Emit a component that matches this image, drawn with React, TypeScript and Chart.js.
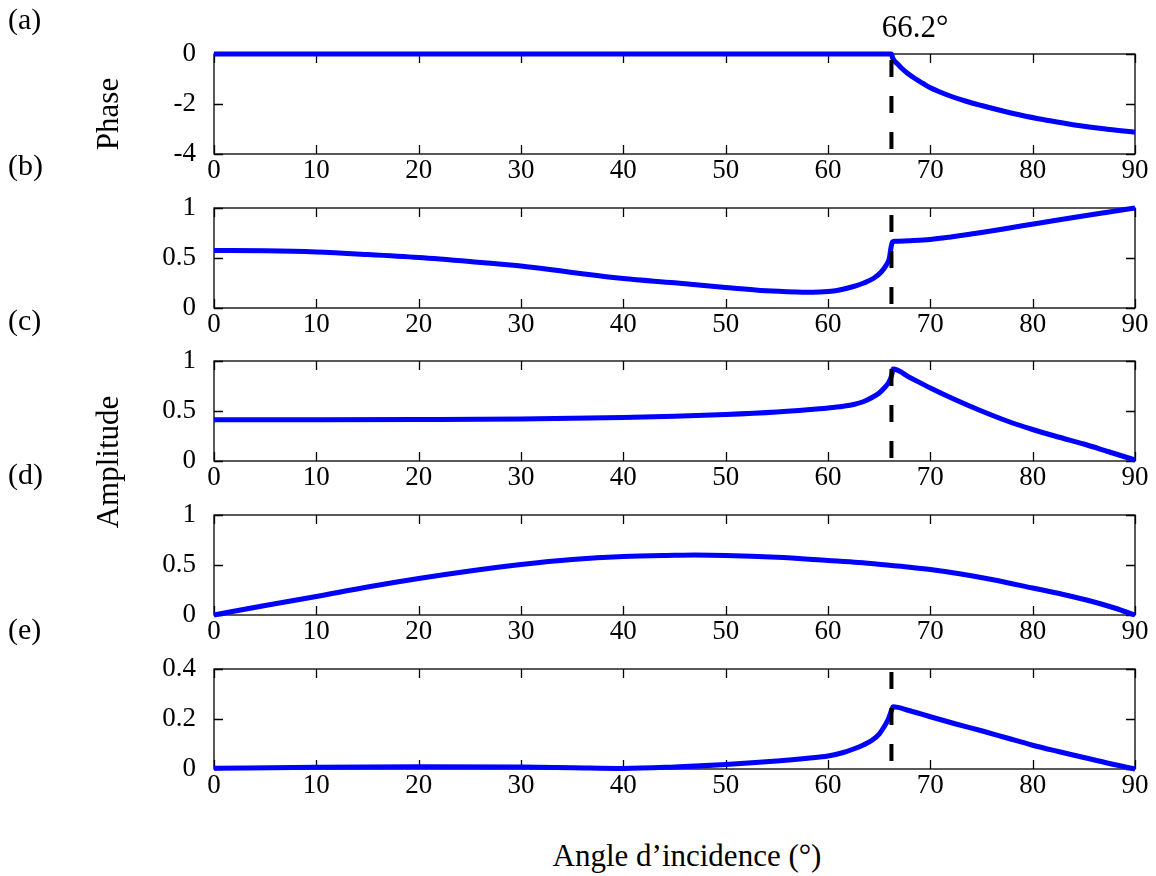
import React, { useEffect, useRef } from "react";
import { Chart, registerables } from "chart.js";

Chart.register(...registerables);

// ---------------- data ----------------
const xTickValues = [0, 10, 20, 30, 40, 50, 60, 70, 80, 90];
const xTickLabels = ["0", "10", "20", "30", "40", "50", "60", "70", "80", "90"];
const criticalAngle = 66.2;
const criticalLabel = "66.2°";
const xTitle = "Angle d’incidence (°)";
const panelLetters = ["(a)", "(b)", "(c)", "(d)", "(e)"];

// (a) phase
const angleA = [0, 66.2, 66.3, 66.5, 66.8, 67.2, 67.8, 68.5, 69.3, 70, 71, 72, 73.5, 75, 77, 79, 81, 83, 85, 87.5, 90];
const phaseA = [0, 0, -0.14, -0.28, -0.4, -0.57, -0.78, -0.98, -1.18, -1.35, -1.53, -1.69, -1.89, -2.06, -2.27, -2.46, -2.62, -2.76, -2.89, -3.02, -3.13];
const yTicksA = [-4, -2, 0];
const yLabelsA = ["-4", "-2", "0"];

// (b)
const angleB = [0, 5, 10, 15, 20, 25, 30, 35, 40, 45, 50, 54, 57, 58.5, 60, 61, 62.5, 63.5, 64.5, 65.2, 65.7, 66.0, 66.15, 66.3, 66.5, 68, 70, 72, 75, 78, 81, 84, 87, 90];
const ampB = [0.575, 0.572, 0.56, 0.535, 0.505, 0.465, 0.42, 0.355, 0.295, 0.252, 0.205, 0.172, 0.16, 0.157, 0.165, 0.178, 0.215, 0.25, 0.3, 0.36, 0.43, 0.5, 0.6, 0.66, 0.667, 0.673, 0.685, 0.71, 0.755, 0.805, 0.855, 0.905, 0.953, 1.0];

// (c)
const angleC = [0, 10, 20, 30, 40, 45, 50, 55, 58, 60, 61.5, 62.5, 63.5, 64.3, 65, 65.5, 65.9, 66.1, 66.25, 66.35, 68, 70, 72.5, 75, 77.5, 80, 82.5, 85, 87.5, 90];
const ampC = [0.413, 0.413, 0.415, 0.42, 0.435, 0.448, 0.465, 0.49, 0.512, 0.53, 0.548, 0.565, 0.595, 0.635, 0.68, 0.73, 0.78, 0.82, 0.87, 0.92, 0.835, 0.73, 0.61, 0.5, 0.4, 0.315, 0.24, 0.17, 0.09, 0.01];

// (d)
const angleD = [0, 5, 10, 15, 20, 25, 30, 35, 40, 45, 47, 50, 55, 60, 63, 66.2, 68, 70, 73, 76, 80, 83, 86, 88, 90];
const ampD = [0, 0.095, 0.185, 0.28, 0.365, 0.44, 0.505, 0.555, 0.585, 0.597, 0.6, 0.596, 0.577, 0.545, 0.525, 0.495, 0.478, 0.455, 0.41, 0.355, 0.27, 0.205, 0.13, 0.07, 0];

// (e)
const angleE = [0, 10, 20, 30, 35, 40, 45, 50, 55, 58, 60, 61.5, 62.5, 63.5, 64.3, 65, 65.5, 65.9, 66.1, 66.25, 66.35, 68, 70, 72.5, 75, 77.5, 80, 82.5, 85, 87.5, 90];
const ampE = [0.003, 0.007, 0.009, 0.008, 0.005, 0.002, 0.008, 0.018, 0.032, 0.043, 0.052, 0.066, 0.08, 0.097, 0.115, 0.14, 0.17, 0.2, 0.222, 0.24, 0.249, 0.233, 0.209, 0.18, 0.153, 0.124, 0.095, 0.07, 0.046, 0.022, 0];

const yTicksUnit = [0, 0.5, 1];
const yLabelsUnit = ["0", "0.5", "1"];
const yTicksE = [0, 0.2, 0.4];
const yLabelsE = ["0", "0.2", "0.4"];

const yTitlePhase = "Phase";
const yTitleAmp = "Amplitude";

// ---------------- layout / style ----------------
const FONT = "'Liberation Serif', 'Times New Roman', serif";
const PANEL_TOPS = [54, 208, 361, 515, 669];
const PLOT_H = 100;
const PAD_TOP = 44;
const XAXIS_H = 40;
const CANVAS_H = PAD_TOP + PLOT_H + XAXIS_H;

type PanelCfg = {
  xs: number[];
  ys: number[];
  min: number;
  max: number;
  yTicks: number[];
  yLabels: string[];
  dash: null | { from: number; to: number; offset: number };
};

const panels: PanelCfg[] = [
  { xs: angleA, ys: phaseA, min: -4, max: 0, yTicks: yTicksA, yLabels: yLabelsA, dash: { from: 0, to: -4, offset: 30 } },
  { xs: angleB, ys: ampB, min: 0, max: 1, yTicks: yTicksUnit, yLabels: yLabelsUnit, dash: { from: 1, to: 0, offset: 29 } },
  { xs: angleC, ys: ampC, min: 0, max: 1, yTicks: yTicksUnit, yLabels: yLabelsUnit, dash: { from: 0, to: 0.93, offset: 33 } },
  { xs: angleD, ys: ampD, min: 0, max: 1, yTicks: yTicksUnit, yLabels: yLabelsUnit, dash: null },
  { xs: angleE, ys: ampE, min: 0, max: 0.4, yTicks: yTicksE, yLabels: yLabelsE, dash: { from: 0.4, to: 0, offset: 33 } },
];

const framePlugin = {
  id: "frameTicks",
  beforeDatasetsDraw(chart: any, _args: any, opts: any) {
    const { ctx, chartArea } = chart;
    const { left, right, top, bottom } = chartArea;
    const xs = chart.scales.x;
    const ys = chart.scales.y;
    ctx.save();
    ctx.strokeStyle = "#000";
    ctx.lineWidth = 1.3;
    ctx.beginPath();
    const L = 9;
    for (const v of xTickValues) {
      const px = Math.round(xs.getPixelForValue(v)) + 0.5;
      ctx.moveTo(px, bottom);
      ctx.lineTo(px, bottom - L);
      ctx.moveTo(px, top);
      ctx.lineTo(px, top + L);
    }
    for (const v of opts.yTicks as number[]) {
      const py = Math.round(ys.getPixelForValue(v)) + 0.5;
      ctx.moveTo(left, py);
      ctx.lineTo(left + L, py);
      ctx.moveTo(right, py);
      ctx.lineTo(right - L, py);
    }
    ctx.stroke();
    ctx.strokeRect(left, top, right - left, bottom - top);
    ctx.restore();
  },
};

function Panel({ cfg, top }: { cfg: PanelCfg; top: number }) {
  const ref = useRef<HTMLCanvasElement>(null);
  useEffect(() => {
    const datasets: any[] = [];
    if (cfg.dash) {
      datasets.push({
        data: [
          { x: criticalAngle, y: cfg.dash.from },
          { x: criticalAngle, y: cfg.dash.to },
        ],
        borderColor: "#000",
        borderWidth: 4,
        borderDash: [17, 19],
        borderDashOffset: cfg.dash.offset,
        borderCapStyle: "butt",
        pointRadius: 0,
        clip: false,
      });
    }
    datasets.push({
      data: cfg.xs.map((x, i) => ({ x, y: cfg.ys[i] })),
      borderColor: "#0000ff",
      borderWidth: 5,
      pointRadius: 0,
      cubicInterpolationMode: "monotone",
      borderJoinStyle: "round",
      clip: false,
    });
    const tickFont = { family: FONT, size: 27 };
    const chart = new Chart(ref.current as HTMLCanvasElement, {
      type: "line",
      data: { datasets },
      options: {
        animation: false,
        responsive: false,
        maintainAspectRatio: false,
        devicePixelRatio: 1,
        layout: { padding: { top: PAD_TOP, right: 21, left: 0, bottom: 0 } },
        plugins: {
          legend: { display: false },
          tooltip: { enabled: false },
          frameTicks: { yTicks: cfg.yTicks },
        } as any,
        scales: {
          x: {
            type: "linear",
            min: 0,
            max: 90,
            afterBuildTicks: (s: any) => {
              s.ticks = xTickValues.map((v) => ({ value: v }));
            },
            afterFit: (s: any) => {
              s.height = XAXIS_H;
            },
            grid: { display: false, drawTicks: false },
            border: { display: false },
            ticks: {
              font: tickFont,
              color: "#000",
              padding: 1,
              autoSkip: false,
              maxRotation: 0,
              callback: (v: any) => xTickLabels[xTickValues.indexOf(Number(v))],
            },
          },
          y: {
            type: "linear",
            min: cfg.min,
            max: cfg.max,
            afterBuildTicks: (s: any) => {
              s.ticks = cfg.yTicks.map((v) => ({ value: v }));
            },
            afterFit: (s: any) => {
              s.width = 214;
            },
            grid: { display: false, drawTicks: false },
            border: { display: false },
            ticks: {
              font: tickFont,
              color: "#000",
              padding: 18,
              autoSkip: false,
              callback: (v: any) => {
                const i = cfg.yTicks.findIndex((t) => Math.abs(t - Number(v)) < 1e-9);
                return i >= 0 ? cfg.yLabels[i] : "";
              },
            },
          },
        },
      } as any,
      plugins: [framePlugin],
    });
    return () => chart.destroy();
  }, [cfg]);
  return (
    <canvas
      ref={ref}
      width={1156}
      height={CANVAS_H}
      style={{ position: "absolute", left: 0, top: top - PAD_TOP, width: 1156, height: CANVAS_H }}
    />
  );
}

const textBase: React.CSSProperties = {
  position: "absolute",
  fontFamily: FONT,
  color: "#000",
  whiteSpace: "nowrap",
  lineHeight: 1,
};

export default function App() {
  const letterCenters = [22, 168, 323, 477, 632];
  return (
    <div style={{ position: "absolute", left: 0, top: 0, width: 1156, height: 876, background: "#fff", overflow: "hidden" }}>
      {panels.map((p, i) => (
        <Panel key={i} cfg={p} top={PANEL_TOPS[i]} />
      ))}
      {panelLetters.map((t, i) => (
        <div key={t} style={{ ...textBase, fontSize: 30, left: 8, top: letterCenters[i] - 18 }}>
          {t}
        </div>
      ))}
      <div style={{ ...textBase, fontSize: 31, left: 915, top: 26, transform: "translate(-50%, -50%)" }}>{criticalLabel}</div>
      <div
        style={{ ...textBase, fontSize: 31, left: 106.5, top: 114, transform: "translate(-50%, -50%) rotate(-90deg)" }}
      >
        {yTitlePhase}
      </div>
      <div
        style={{ ...textBase, fontSize: 31, left: 106.5, top: 462, transform: "translate(-50%, -50%) rotate(-90deg)" }}
      >
        {yTitleAmp}
      </div>
      <div style={{ ...textBase, fontSize: 31, left: 687, top: 855, transform: "translate(-50%, -50%)" }}>{xTitle}</div>
    </div>
  );
}
